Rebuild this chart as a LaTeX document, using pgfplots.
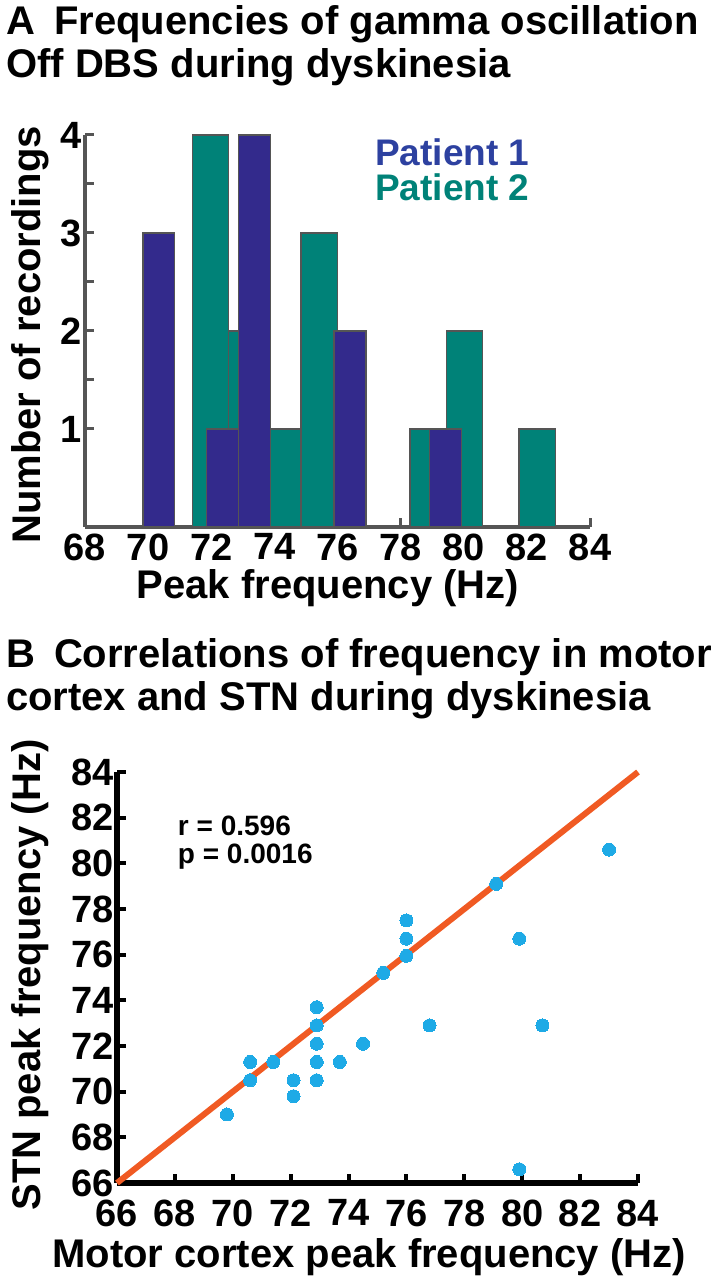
\documentclass[border=0pt]{standalone}
\usepackage{fontspec}
\setmainfont{Liberation Sans}
\usepackage{pgfplots}
\pgfplotsset{compat=1.18}
\definecolor{pblue}{RGB}{51,42,140}
\definecolor{pteal}{RGB}{0,130,120}
\definecolor{lblue}{RGB}{45,65,160}
\definecolor{axgray}{RGB}{85,85,85}
\definecolor{dotblue}{RGB}{30,170,230}
\definecolor{lineorange}{RGB}{240,90,35}
\newcommand{\bigfnt}{\fontsize{40bp}{48bp}\selectfont\bfseries}
\newcommand{\tickfnt}{\fontsize{38bp}{40bp}\selectfont\bfseries}
\begin{document}
\begin{tikzpicture}
\path[use as bounding box] (0bp,0bp) rectangle (721bp,1280bp);
% ---------- Panel A ----------
\node[anchor=base west,font=\bigfnt,inner sep=0] at (6bp,1245bp) {A\hspace{19bp}Frequencies of gamma oscillation};
\node[anchor=base west,font=\bigfnt,inner sep=0] at (6bp,1202bp) {Off DBS during dyskinesia};
\begin{axis}[
  at={(85bp,753bp)}, anchor=south west,
  scale only axis, width=505bp, height=392bp,
  xmin=68, xmax=84, ymin=0, ymax=4, enlargelimits=false,
  axis lines=left, axis line style={-, draw=axgray, line width=4bp},
  xtick={68,70,...,84}, ytick={1,2,3,4}, minor y tick num=1,
  tick align=inside, major tick length=9bp, minor tick length=9bp,
  tick style={draw=axgray, line width=3bp},
  /pgf/number format/assume math mode=true,
  tick label style={font=\tickfnt},
  x tick label style={yshift=-3bp},
  xlabel={Peak frequency (Hz)}, ylabel={Number of recordings},
  x label style={font=\bigfnt, at={(axis description cs:0.481,-0.156)}, anchor=center},
  y label style={font=\bigfnt, at={(axis description cs:-0.109,0.49)}, anchor=center},
]
\addplot[ybar, bar width=1.15, bar shift=0pt, fill=pteal, draw=axgray, line width=1.5bp]
  coordinates {(71.975,4) (73.125,2) (74.275,1) (75.425,3) (78.875,1) (80.025,2) (82.325,1)};
\addplot[ybar, bar width=1.01, bar shift=0pt, fill=pblue, draw=axgray, line width=1.5bp]
  coordinates {(70.335,3) (72.355,1) (73.365,4) (76.395,2) (79.425,1)};
\end{axis}
\node[anchor=west,font=\fontsize{37bp}{40bp}\selectfont\bfseries,text=lblue,inner sep=0] at (375bp,1128bp) {Patient 1};
\node[anchor=west,font=\fontsize{37bp}{40bp}\selectfont\bfseries,text=pteal,inner sep=0] at (375bp,1093bp) {Patient 2};
% ---------- Panel B ----------
\node[anchor=base west,font=\bigfnt,inner sep=0] at (6bp,612bp) {B\hspace{19bp}Correlations of frequency in motor};
\node[anchor=base west,font=\bigfnt,inner sep=0] at (6bp,569bp) {cortex and STN during dyskinesia};
\begin{axis}[
  at={(117bp,97bp)}, anchor=south west,
  scale only axis, width=521bp, height=411bp,
  xmin=66, xmax=84, ymin=66, ymax=84, enlargelimits=false, clip=false,
  axis lines=left, axis line style={-, draw=black, line width=5bp},
  xtick={66,68,...,84}, ytick={66,68,...,84},
  tick align=inside, major tick length=9bp,
  tick style={draw=black, line width=4bp},
  /pgf/number format/assume math mode=true,
  tick label style={font=\tickfnt},
  x tick label style={yshift=-13bp},
  xlabel={Motor cortex peak frequency (Hz)}, ylabel={STN peak frequency (Hz)},
  x label style={font=\bigfnt, at={(axis description cs:0.484,-0.180)}, anchor=center},
  y label style={font=\bigfnt, at={(axis description cs:-0.167,0.506)}, anchor=center},
]
\addplot[lineorange, line width=6bp] coordinates {(66,66) (84,84)};
\addplot[only marks, color=dotblue, mark=*, mark size=6.5bp, mark options={fill=dotblue, draw=dotblue, line width=0pt}]
  coordinates {
  (69.8,69.0) (70.6,70.5) (70.6,71.3) (71.4,71.3) (72.1,70.5) (72.1,69.8)
  (72.9,73.7) (72.9,72.9) (72.9,72.1) (72.9,71.3) (72.9,70.5) (73.7,71.3)
  (74.5,72.1) (75.2,75.2) (76.0,75.95) (76.0,76.7) (76.0,77.5) (76.8,72.9)
  (79.1,79.1) (79.9,76.7) (79.9,66.6) (80.7,72.9) (83.0,80.6)};
\node[anchor=west,font=\fontsize{28bp}{32bp}\selectfont\bfseries,inner sep=0] at (axis cs:68.1,81.65) {r = 0.596};
\node[anchor=west,font=\fontsize{28bp}{32bp}\selectfont\bfseries,inner sep=0] at (axis cs:68.1,80.3) {p = 0.0016};
\end{axis}
\end{tikzpicture}
\end{document}
